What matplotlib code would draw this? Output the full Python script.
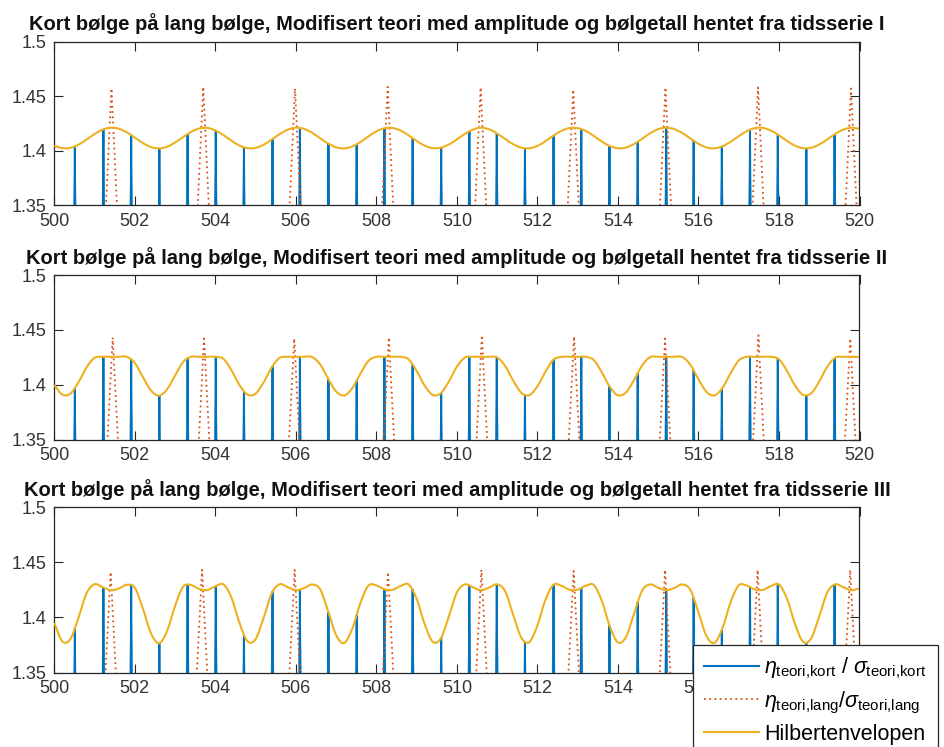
import numpy as np
import matplotlib
matplotlib.use("Agg")
import matplotlib.pyplot as plt
from matplotlib.path import Path
from matplotlib.patches import PathPatch
from matplotlib.lines import Line2D

plt.rcParams["font.family"] = ["Liberation Sans", "DejaVu Sans"]
plt.rcParams["mathtext.fontset"] = "custom"
plt.rcParams["mathtext.rm"] = "Liberation Sans"
plt.rcParams["mathtext.it"] = "Liberation Sans:italic"
plt.rcParams["mathtext.bf"] = "Liberation Sans:bold"

# ---------------------------------------------------------------- data
# Hilbert envelope, sampled every 0.2 s from t = 500 s to t = 520 s
env_I = [1.4046, 1.4022, 1.4025, 1.4054, 1.4101, 1.4152, 1.4192, 1.4210, 1.4201, 1.4168,
         1.4119, 1.4069, 1.4032, 1.4020, 1.4035, 1.4074, 1.4124, 1.4172, 1.4203, 1.4208,
         1.4185, 1.4142, 1.4091, 1.4046, 1.4022, 1.4025, 1.4054, 1.4101, 1.4152, 1.4192,
         1.4210, 1.4199, 1.4164, 1.4114, 1.4065, 1.4030, 1.4020, 1.4038, 1.4078, 1.4129,
         1.4176, 1.4205, 1.4208, 1.4184, 1.4140, 1.4088, 1.4045, 1.4022, 1.4026, 1.4056,
         1.4103, 1.4154, 1.4193, 1.4210, 1.4195, 1.4156, 1.4106, 1.4058, 1.4027, 1.4021,
         1.4043, 1.4086, 1.4137, 1.4182, 1.4207, 1.4206, 1.4180, 1.4134, 1.4083, 1.4041,
         1.4021, 1.4028, 1.4060, 1.4108, 1.4159, 1.4196, 1.4210, 1.4197, 1.4161, 1.4111,
         1.4062, 1.4029, 1.4021, 1.4040, 1.4081, 1.4132, 1.4178, 1.4206, 1.4208, 1.4184,
         1.4140, 1.4088, 1.4045, 1.4022, 1.4026, 1.4056, 1.4103, 1.4154, 1.4193, 1.4210,
         1.4199]
env_II = [1.3997, 1.3909, 1.3919, 1.4022, 1.4157, 1.4245, 1.4254, 1.4254, 1.4254, 1.4254,
          1.4197, 1.4070, 1.3947, 1.3900, 1.3957, 1.4084, 1.4207, 1.4254, 1.4254, 1.4254,
          1.4254, 1.4235, 1.4132, 1.3997, 1.3909, 1.3919, 1.4022, 1.4157, 1.4245, 1.4254,
          1.4254, 1.4254, 1.4253, 1.4186, 1.4056, 1.3938, 1.3901, 1.3968, 1.4098, 1.4216,
          1.4254, 1.4254, 1.4254, 1.4254, 1.4231, 1.4125, 1.3991, 1.3907, 1.3922, 1.4029,
          1.4164, 1.4247, 1.4254, 1.4254, 1.4254, 1.4249, 1.4169, 1.4036, 1.3926, 1.3905,
          1.3985, 1.4118, 1.4228, 1.4254, 1.4254, 1.4254, 1.4254, 1.4224, 1.4112, 1.3979,
          1.3903, 1.3930, 1.4042, 1.4175, 1.4251, 1.4254, 1.4254, 1.4254, 1.4252, 1.4181,
          1.4049, 1.3934, 1.3902, 1.3973, 1.4105, 1.4220, 1.4254, 1.4254, 1.4254, 1.4254,
          1.4231, 1.4125, 1.3991, 1.3907, 1.3922, 1.4029, 1.4164, 1.4247, 1.4254, 1.4254,
          1.4254]
env_III = [1.3950, 1.3782, 1.3803, 1.3996, 1.4217, 1.4300, 1.4273, 1.4246, 1.4260, 1.4295,
           1.4268, 1.4080, 1.3857, 1.3765, 1.3875, 1.4103, 1.4278, 1.4292, 1.4257, 1.4248,
           1.4281, 1.4299, 1.4179, 1.3950, 1.3782, 1.3803, 1.3996, 1.4217, 1.4300, 1.4273,
           1.4246, 1.4264, 1.4297, 1.4256, 1.4057, 1.3839, 1.3767, 1.3896, 1.4126, 1.4287,
           1.4289, 1.4254, 1.4249, 1.4283, 1.4298, 1.4168, 1.3938, 1.3778, 1.3809, 1.4008,
           1.4226, 1.4299, 1.4272, 1.4245, 1.4270, 1.4299, 1.4235, 1.4021, 1.3816, 1.3775,
           1.3927, 1.4159, 1.4296, 1.4285, 1.4250, 1.4251, 1.4286, 1.4293, 1.4149, 1.3916,
           1.3772, 1.3823, 1.4033, 1.4242, 1.4298, 1.4268, 1.4245, 1.4266, 1.4298, 1.4249,
           1.4045, 1.3831, 1.3769, 1.3906, 1.4138, 1.4290, 1.4288, 1.4253, 1.4249, 1.4283,
           1.4298, 1.4168, 1.3938, 1.3778, 1.3809, 1.4008, 1.4226, 1.4299, 1.4272, 1.4245,
           1.4264]

# crests of the short wave (time, normalised height)
t_kort = [500.51, 501.22, 501.91, 502.61, 503.31, 504.01, 504.71, 505.42, 506.10, 506.81,
          507.51, 508.20, 508.90, 509.61, 510.31, 510.99, 511.69, 512.40, 513.09, 513.79,
          514.49, 515.20, 515.88, 516.58, 517.28, 517.97, 518.68, 519.38]
kort_I = [1.4038, 1.4195, 1.4142, 1.4020, 1.4152, 1.4184, 1.4030, 1.4106, 1.4208, 1.4062,
          1.4058, 1.4205, 1.4114, 1.4027, 1.4178, 1.4159, 1.4021, 1.4137, 1.4197, 1.4043,
          1.4081, 1.4210, 1.4091, 1.4037, 1.4192, 1.4147, 1.4020, 1.4149]
kort_II = [1.3968, 1.4254, 1.4235, 1.3900, 1.4245, 1.4254, 1.3938, 1.4169, 1.4254, 1.4049,
           1.4036, 1.4254, 1.4186, 1.3926, 1.4254, 1.4251, 1.3903, 1.4228, 1.4254, 1.3985,
           1.4105, 1.4254, 1.4132, 1.3962, 1.4254, 1.4241, 1.3900, 1.4243]
kort_III = [1.3896, 1.4270, 1.4299, 1.3766, 1.4300, 1.4283, 1.3839, 1.4235, 1.4249, 1.4045,
            1.4021, 1.4254, 1.4256, 1.3816, 1.4288, 1.4298, 1.3772, 1.4296, 1.4266, 1.3927,
            1.4138, 1.4245, 1.4179, 1.3885, 1.4273, 1.4300, 1.3765, 1.4300]

# crests of the long wave (time, normalised height)
t_lang_I = [501.42, 503.70, 505.98, 508.28, 510.59, 512.89, 515.18, 517.48, 519.79]
lang_I = [1.4570, 1.4585, 1.4570, 1.4585, 1.4580, 1.4560, 1.4580, 1.4580, 1.4570]
t_lang_II = [501.45, 503.72, 505.96, 508.31, 510.62, 512.91, 515.17, 517.49, 519.77]
lang_II = [1.4430, 1.4420, 1.4420, 1.4430, 1.4450, 1.4440, 1.4420, 1.4450, 1.4420]
t_lang_III = [501.40, 503.67, 505.97, 508.29, 510.61, 512.90, 515.17, 517.47, 519.77]
lang_III = [1.4410, 1.4430, 1.4430, 1.4410, 1.4430, 1.4420, 1.4430, 1.4430, 1.4430]

series_names = ["I", "II", "III"]
title_base = "Kort bølge på lang bølge, Modifisert teori med amplitude og bølgetall hentet fra tidsserie "
x_ticks = [500, 502, 504, 506, 508, 510, 512, 514, 516, 518, 520]
y_ticks = [1.35, 1.40, 1.45, 1.50]
y_ticklabels = ["1.35", "1.4", "1.45", "1.5"]
legend_labels = [r"$\eta_{\mathrm{teori{,}kort}}$ / $\sigma_{\mathrm{teori{,}kort}}$",
                 r"$\eta_{\mathrm{teori{,}lang}}$/$\sigma_{\mathrm{teori{,}lang}}$",
                 "Hilbertenvelopen"]

# ---------------------------------------------------------------- style
C_KORT = "#0072BD"
C_KORT_HALO = "#7fb6de"
C_LANG = "#D95319"
C_ENV = "#EDB120"
C_AX = "#262626"
LANG_DOTS = (0, (1, 1.9))
Y_FOOT = 1.30          # spikes continue below the visible window
KORT_HALF = 0.075      # half width of a short-wave crest at Y_FOOT (halo)
KORT_CORE = 0.02       # half width of the dark crest line at Y_FOOT
LANG_HALF = 0.20       # half width of a long-wave crest at Y_FOOT

W, H = 945, 747
fig = plt.figure(figsize=(W / 100, H / 100), dpi=100)

# axes boxes in pixels: (left, top, right, bottom)
boxes = [(54.3, 41.7, 859.5, 205.0),
         (54.3, 275.0, 859.5, 439.5),
         (54.3, 507.0, 859.5, 672.5)]


def spike_line(times, heights, half):
    t = np.asarray(times, float)
    h = np.asarray(heights, float)
    xs = np.column_stack([t - half, t, t + half]).ravel()
    ys = np.column_stack([np.full_like(h, Y_FOOT), h, np.full_like(h, Y_FOOT)]).ravel()
    return xs, ys


def smooth_path(x, y):
    p = np.column_stack([x, y])
    ext = np.vstack([2 * p[0] - p[1], p, 2 * p[-1] - p[-2]])
    verts = [p[0]]
    codes = [Path.MOVETO]
    for i in range(len(p) - 1):
        p0, p1, p2, p3 = ext[i], ext[i + 1], ext[i + 2], ext[i + 3]
        verts += [p1 + (p2 - p0) / 6.0, p2 - (p3 - p1) / 6.0, p2]
        codes += [Path.CURVE4] * 3
    return Path(verts, codes)


envs = [env_I, env_II, env_III]
korts = [kort_I, kort_II, kort_III]
lang_t = [t_lang_I, t_lang_II, t_lang_III]
langs = [lang_I, lang_II, lang_III]

for k, (l, t, r, b) in enumerate(boxes):
    ax = fig.add_axes([l / W, 1 - b / H, (r - l) / W, (b - t) / H])
    env = np.asarray(envs[k])
    t_env = np.linspace(500.0, 520.0, len(env))

    xs, ys = spike_line(t_kort, korts[k], KORT_HALF)
    ax.fill(xs, ys, color=C_KORT_HALO, lw=0, alpha=0.8)
    xs, ys = spike_line(t_kort, korts[k], KORT_CORE)
    ax.plot(xs, ys, color=C_KORT, lw=1.4, solid_joinstyle="miter")
    xs, ys = spike_line(lang_t[k], langs[k], LANG_HALF)
    ax.plot(xs, ys, color=C_LANG, lw=1.3, linestyle=LANG_DOTS)
    ax.add_patch(PathPatch(smooth_path(t_env, env), fill=False,
                           edgecolor=C_ENV, lw=1.5, zorder=3))

    ax.set_xlim(500, 520)
    ax.set_ylim(1.35, 1.5)
    ax.set_xticks(x_ticks)
    ax.set_xticklabels([str(v) for v in x_ticks])
    ax.set_yticks(y_ticks)
    ax.set_yticklabels(y_ticklabels)
    ax.tick_params(direction="in", length=6.5, width=0.8, top=True, right=True,
                   labelsize=13, labelcolor="#333333", color=C_AX, pad=5.5)
    for s in ax.spines.values():
        s.set_color(C_AX)
        s.set_linewidth(0.9)
    ax.set_title(title_base + series_names[k], fontsize=14.5, fontweight="bold",
                 color="#111111", pad=8.2)

handles = [Line2D([], [], color=C_KORT, lw=1.5),
           Line2D([], [], color=C_LANG, lw=1.3, linestyle=LANG_DOTS),
           Line2D([], [], color=C_ENV, lw=1.5)]
leg = fig.legend(handles, legend_labels, loc="upper left",
                 bbox_to_anchor=(693.3 / W, 1 - 645.0 / H), bbox_transform=fig.transFigure,
                 borderaxespad=0, fancybox=False, framealpha=1, edgecolor=C_AX,
                 fontsize=15.5, handlelength=2.55, handletextpad=0.25, borderpad=0.5,
                 labelspacing=0.38)
leg.get_frame().set_linewidth(0.9)

fig.savefig("out.png", dpi=100)
